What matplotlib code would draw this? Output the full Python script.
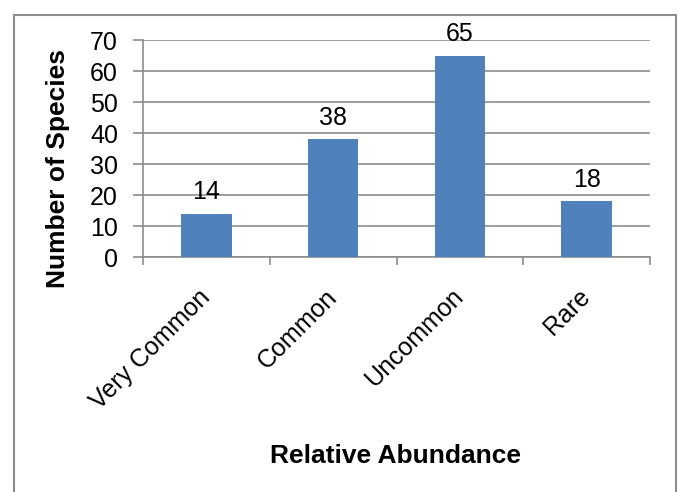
import matplotlib.pyplot as plt
from matplotlib.patches import Rectangle

# data
categories = ['Very Common', 'Common', 'Uncommon', 'Rare']
species = [14, 38, 65, 18]

plt.rcParams['font.family'] = ['Liberation Sans', 'DejaVu Sans']

fig = plt.figure(figsize=(6.8, 4.92), dpi=100)

# outer chart border like Excel
fig.patches.append(Rectangle((14 / 680, -0.1), 662 / 680, 1 - 15 / 492 + 0.1,
                             transform=fig.transFigure, fill=False,
                             edgecolor='#8c8c8c', linewidth=1.5))

ax = fig.add_axes([0.2103, 0.4776, 0.7456, 0.441])
x = range(len(categories))
ax.bar(x, species, width=0.4, color='#4F81BD', zorder=3)

for xi, v in zip(x, species):
    ax.text(xi, v + 3, str(v), ha='center', va='bottom', fontsize=18, clip_on=False)

ax.set_ylim(0, 70)
ax.set_xlim(-0.5, len(categories) - 0.5)
ax.set_yticks(range(0, 71, 10))
ax.yaxis.grid(True, color='#8c8c8c', linewidth=1.2, zorder=0)
ax.tick_params(axis='y', length=7, width=1.2, color='#8c8c8c', pad=11, labelsize=18)

ax.set_xticks(list(x))
ax.set_xticklabels(categories, rotation=45, ha='right', va='center',
                   rotation_mode='anchor', fontsize=18)
ax.tick_params(axis='x', which='major', length=0, pad=26)
ax.set_xticks([i - 0.5 for i in range(len(categories) + 1)], minor=True)
ax.tick_params(axis='x', which='minor', length=6, width=1.2, color='#8c8c8c')

for s in ['top', 'right']:
    ax.spines[s].set_visible(False)
for s in ['left', 'bottom']:
    ax.spines[s].set_color('#8c8c8c')
    ax.spines[s].set_linewidth(1.2)

fig.text(58 / 680, 1 - 168 / 492, 'Number of Species', rotation=90,
         ha='center', va='center', fontsize=19, fontweight='bold')
fig.text(395 / 680, 1 - 456 / 492, 'Relative Abundance',
         ha='center', va='center', fontsize=19, fontweight='bold')

fig.savefig('out.png', dpi=100)
